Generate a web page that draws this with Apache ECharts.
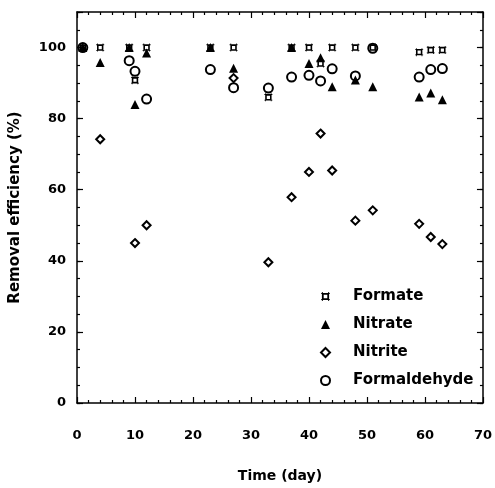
<!DOCTYPE html>
<html><head><meta charset="utf-8">
<script src="https://cdn.jsdelivr.net/npm/echarts@6/dist/echarts.min.js"></script>
<style>html,body{margin:0;padding:0;background:#fff}#c{width:495px;height:488px}</style>
</head><body><div id="c"></div>
<script>
// ---- data ----
const formateDays   = [1, 4, 9, 10, 12, 23, 27, 33, 37, 40, 42, 44, 48, 51, 59, 61, 63];
const formateValues = [100, 100, 100, 90.8, 100, 100, 100, 86, 100, 100, 95.5, 100, 100, 100, 98.7, 99.3, 99.3];

const nitrateDays   = [1, 4, 9, 10, 12, 23, 27, 37, 40, 42, 44, 48, 51, 59, 61, 63];
const nitrateValues = [100, 95.8, 100, 84, 98.5, 100, 94.2, 100, 95.5, 97.1, 89, 90.9, 89, 86.1, 87.2, 85.3];

const nitriteDays   = [4, 10, 12, 27, 33, 37, 40, 42, 44, 48, 51, 59, 61, 63];
const nitriteValues = [74.2, 45, 50, 91.4, 39.6, 57.9, 65, 75.8, 65.4, 51.3, 54.2, 50.4, 46.7, 44.7];

const formaldehydeDays   = [1, 9, 10, 12, 23, 27, 33, 37, 40, 42, 44, 48, 51, 59, 61, 63];
const formaldehydeValues = [100, 96.3, 93.3, 85.5, 93.8, 88.7, 88.6, 91.7, 92.2, 90.6, 94, 92, 99.8, 91.7, 93.8, 94.1];

const seriesNames = ['Formate', 'Nitrate', 'Nitrite', 'Formaldehyde'];
const xTitle = 'Time (day)';
const yTitle = 'Removal efficiency (%)';

// ---- chart ----
const FONT = 'DejaVu Sans';
const zip = (xs, ys) => xs.map((x, i) => [x, ys[i]]);
const formatePath = 'path://M0,1H1V0H2V1H8V0H9V1H10V2H9V8H10V9H9V10H8V9H2V10H1V9H0V8H1V2H0Z M3,3V7H7V3Z';

const lineStyle = { color: '#000', width: 1.5 };
const labelStyle = { color: '#000', fontFamily: FONT, fontWeight: 'bold', fontSize: 13 };

function yAx(pos, interval, tickLen, extra) {
  return Object.assign({
    type: 'value', position: pos, min: 0, max: 110, interval: interval,
    axisLine: { show: interval === 20, lineStyle: lineStyle },
    axisTick: { show: true, inside: true, length: tickLen, lineStyle: { color: '#000', width: 1.2 } },
    axisLabel: { show: false },
    splitLine: { show: false }
  }, extra || {});
}
function xAx(pos, extra) {
  return Object.assign({
    type: 'value', position: pos, min: 0, max: 70, interval: 10,
    axisLine: { show: true, onZero: false, lineStyle: lineStyle },
    axisTick: { show: true, inside: true, length: 6, lineStyle: { color: '#000', width: 1.2 } },
    minorTick: { show: true, splitNumber: 5, length: 3, lineStyle: { color: '#000', width: 1.2 } },
    axisLabel: { show: false },
    splitLine: { show: false }
  }, extra || {});
}

const chart = echarts.init(document.getElementById('c'), null, { renderer: 'canvas' });
chart.setOption({
  animation: false,
  backgroundColor: '#fff',
  grid: { left: 73, right: 9, top: 12, bottom: 78, containLabel: false },
  xAxis: [
    xAx('bottom', {
      axisLabel: Object.assign({ show: true, margin: 26 }, labelStyle),
      name: xTitle, nameLocation: 'middle', nameGap: 66,
      nameTextStyle: { color: '#000', fontFamily: FONT, fontWeight: 'bold', fontSize: 14 }
    }),
    xAx('top')
  ],
  yAxis: [
    yAx('left', 20, 6, {
      axisLabel: Object.assign({ show: true, margin: 11, formatter: v => (v > 100 ? '' : String(v)) }, labelStyle),
      name: yTitle, nameLocation: 'middle', nameGap: 54,
      nameTextStyle: { color: '#000', fontFamily: FONT, fontWeight: 'bold', fontSize: 15 }
    }),
    yAx('left', 5, 3),
    yAx('right', 20, 6),
    yAx('right', 5, 3)
  ],
  legend: {
    orient: 'vertical', left: 315, top: 284,
    itemWidth: 9, itemHeight: 9, itemGap: 13,
    textStyle: { color: '#000', fontFamily: FONT, fontWeight: 'bold', fontSize: 15, padding: [0, 0, 0, 18] },
    data: seriesNames
  },
  series: [
    { name: seriesNames[0], type: 'scatter', data: zip(formateDays, formateValues),
      symbol: formatePath, symbolSize: 8, itemStyle: { color: '#000', opacity: 1 } },
    { name: seriesNames[1], type: 'scatter', data: zip(nitrateDays, nitrateValues),
      symbol: 'triangle', symbolSize: 9, itemStyle: { color: '#000', opacity: 1 } },
    { name: seriesNames[2], type: 'scatter', data: zip(nitriteDays, nitriteValues),
      symbol: 'diamond', symbolSize: 8, itemStyle: { color: 'rgba(0,0,0,0)', borderColor: '#000', borderWidth: 2, opacity: 1 } },
    { name: seriesNames[3], type: 'scatter', data: zip(formaldehydeDays, formaldehydeValues),
      symbol: 'circle', symbolSize: 9, itemStyle: { color: 'rgba(0,0,0,0)', borderColor: '#000', borderWidth: 2, opacity: 1 } }
  ]
});
</script>
</body></html>
